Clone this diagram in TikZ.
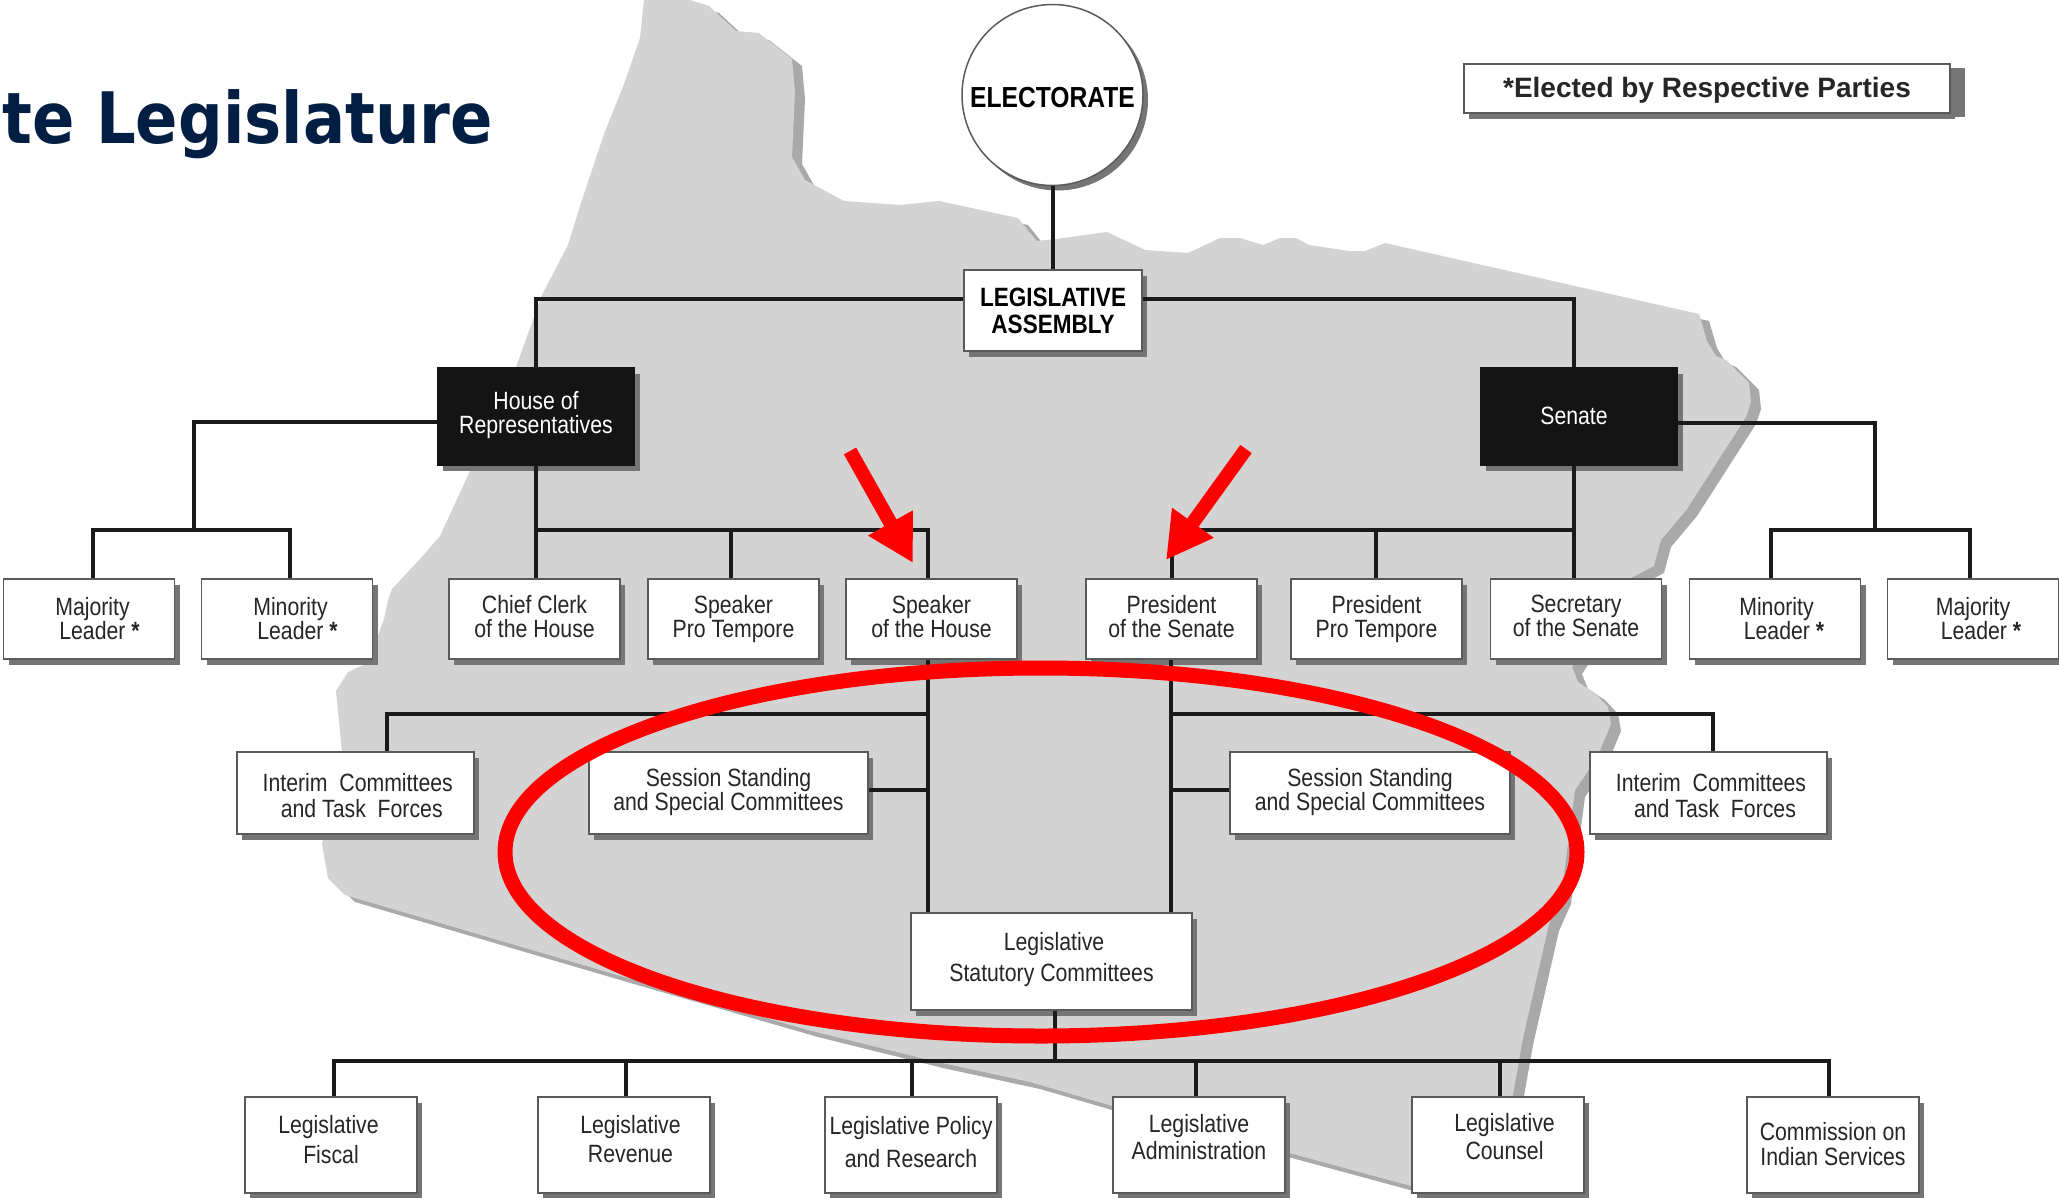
\documentclass[tikz,border=0pt]{standalone}
\usepackage{fontspec}
\setmainfont{Liberation Sans}[FakeStretch=0.85]
\newfontfamily\plainfont{Liberation Sans}
\newfontfamily\titlefont{DejaVu Sans}[FakeStretch=0.88]
\usetikzlibrary{shadows,arrows.meta,shapes.geometric}
\definecolor{mapgray}{HTML}{D3D3D3}
\definecolor{mapshade}{HTML}{A9A9A9}
\definecolor{boxshade}{HTML}{757575}
\definecolor{boxedge}{HTML}{5A5A5A}
\definecolor{linkblack}{HTML}{1A1A1A}
\definecolor{titlenavy}{HTML}{031E43}
\newcommand{\statemap}{(644,0) -- (640,38) -- (624,84) -- (604,134) -- (581,203) -- (568,245) -- (542,295) -- (516,367) -- (470,471) -- (440,536) -- (420,559) -- (392,589) -- (388,600) -- (384,619) -- (368,663) -- (348,672) -- (336,691) -- (342,752) -- (322,844) -- (328,878) -- (345,895) -- (617,975) -- (808,1030) -- (933,1061) -- (1030,1082) -- (1109,1105) -- (1293,1154) -- (1411,1186) -- (1513,1095) -- (1523,1038) -- (1549,924) -- (1561,897) -- (1575,790) -- (1588,771) -- (1601,748) -- (1611,724) -- (1608,707) -- (1595,693) -- (1578,682) -- (1572,667) -- (1631,578) -- (1654,566) -- (1661,540) -- (1687,509) -- (1746,417) -- (1751,402) -- (1749,383) -- (1726,360) -- (1716,356) -- (1707,341) -- (1699,314) -- (1385,243) -- (1365,251) -- (1349,251) -- (1309,245) -- (1296,238) -- (1280,238) -- (1263,245) -- (1240,238) -- (1220,238) -- (1188,253) -- (1145,250) -- (1107,232) -- (1056,239) -- (1037,241) -- (1030,233) -- (1018,218) -- (939,201) -- (900,205) -- (844,201) -- (805,180) -- (792,157) -- (795,92) -- (792,59) -- (759,33) -- (736,31) -- (709,6) -- (690,0) -- cycle}
\tikzset{
  box/.style={draw=boxedge, fill=white, line width=1.5pt, align=center, text=black!85,
    inner sep=0pt, font=\fontsize{25}{24}\selectfont,
    drop shadow={shadow xshift=5pt, shadow yshift=-6pt, fill=boxshade, opacity=1}},
  topbox/.style={box, minimum width=171pt, minimum height=80pt},
  midbox/.style={box, minimum height=82pt},
  lowbox/.style={box, minimum width=172pt, minimum height=96pt},
  darkbox/.style={box, fill=black!92, draw=black!92, text=white, minimum width=197pt, minimum height=97pt},
  link/.style={draw=linkblack, line width=4pt},
  redarrow/.style={draw=red, line width=14pt, -{Triangle[length=46pt,width=48pt]}}
}
\begin{document}
\begin{tikzpicture}[x=1pt, y=-1pt]
    \useasboundingbox (0,0) rectangle (2059,1197);

    % State outline behind the chart
    \fill[mapshade, xshift=10pt, yshift=-7pt] \statemap;
    \fill[mapgray] \statemap;

    % Title and note
    \node[anchor=base west, inner sep=0pt, text=titlenavy, font=\titlefont\fontsize{71}{71}\selectfont\bfseries] (title) at (2,143.5) {te Legislature};
    \node[box, minimum width=486pt, minimum height=49pt, font=\plainfont\fontsize{28}{28}\selectfont\bfseries,
      drop shadow={shadow xshift=15pt, shadow yshift=-4pt, fill=boxshade, opacity=1}] (note) at (1707,88.5) {*Elected by Respective Parties\\[-25pt]};

    % Top of the chart
    \node[circle, draw=boxedge, fill=white, line width=1.5pt, minimum size=181pt, inner sep=0pt, text=black,
      font=\fontsize{29}{29}\selectfont\bfseries,
      drop shadow={shadow xshift=5pt, shadow yshift=-5pt, fill=boxshade, opacity=1}] (elect) at (1052.5,95) {\rule{0pt}{26pt}ELECTORATE};
    \node[box, minimum width=178pt, minimum height=81pt, text=black, font=\fontsize{26.5}{27}\selectfont\bfseries] (asm) at (1053,310.5) {LEGISLATIVE\\ASSEMBLY};
    \node[darkbox] (house) at (536,416.5) {House of\\Representatives\\[-15.6pt]};
    \node[darkbox] (senate) at (1579,416.5) {Senate\hspace*{10pt}\\[-23pt]};

    % Officers of the house
    \node[topbox] (hmaj) at (89,619) {\hspace*{7pt}Majority\\\hspace*{21pt}Leader \textbf{*}\\[-23pt]};
    \node[topbox] (hmin) at (287,619) {\hspace*{7pt}Minority\\\hspace*{21pt}Leader \textbf{*}\\[-23pt]};
    \node[topbox] (hclerk) at (534.5,619) {Chief Clerk\\of the House\\[-18pt]};
    \node[topbox] (hpro) at (733.5,619) {Speaker\\Pro Tempore\\[-18pt]};
    \node[topbox] (hspk) at (931.5,619) {Speaker\\of the House\\[-18pt]};

    % Officers of the senate
    \node[topbox] (spre) at (1171.5,619) {President\\of the Senate\\[-18pt]};
    \node[topbox] (spro) at (1376.5,619) {President\\Pro Tempore\\[-18pt]};
    \node[topbox] (ssec) at (1576,619) {Secretary\\of the Senate\\[-18pt]};
    \node[topbox] (smin) at (1775,619) {\hspace*{3pt}Minority\\\hspace*{18pt}Leader \textbf{*}\\[-23pt]};
    \node[topbox] (smaj) at (1973,619) {Majority\\\hspace*{16pt}Leader \textbf{*}\\[-23pt]};

    % Committees
    \node[midbox, minimum width=237pt] (lint) at (355.25,793) {\rule{0pt}{24pt}\hspace*{5pt}Interim\ \ Committees\\[2pt]\hspace*{13pt}and Task\ \ Forces};
    \node[midbox, minimum width=279pt] (lses) at (728.5,793) {Session Standing\\and Special Committees\\[-17.6pt]};
    \node[midbox, minimum width=280pt] (rses) at (1370,793) {Session Standing\\and Special Committees\\[-17.6pt]};
    \node[midbox, minimum width=237pt] (rint) at (1708.5,793) {\rule{0pt}{24pt}\hspace*{5pt}Interim\ \ Committees\\[2pt]\hspace*{13pt}and Task\ \ Forces};
    \node[box, minimum width=281pt, minimum height=97pt] (stat) at (1051.5,961.5) {\hspace*{5pt}Legislative\\[7pt]Statutory Committees\hspace*{10pt}\\[-15pt]};

    % Bottom row
    \node[lowbox] (bfis) at (331,1145) {Legislative\hspace*{5pt}\\[6pt]Fiscal\hspace*{5pt}\\[-12pt]};
    \node[lowbox] (brev) at (624,1145) {\hspace*{13pt}Legislative\\[5pt]\hspace*{13pt}Revenue\\[-11pt]};
    \node[lowbox] (bpol) at (911,1145) {Legislative Policy\\[9pt]and Research\\[-18pt]};
    \node[lowbox] (badm) at (1199,1145) {Legislative\\[3pt]Administration\\[-7pt]};
    \node[lowbox] (bcou) at (1498,1145) {\hspace*{13pt}Legislative\\[4pt]\hspace*{13pt}Counsel\\[-7pt]};
    \node[lowbox] (bcom) at (1833,1145) {Commission on\\[1pt]Indian Services\\[-21pt]};

    % Bus points
    \coordinate (hlbus) at (194,530);
    \coordinate (hbus) at (536,530);
    \coordinate (sbus) at (1574,530);
    \coordinate (srbus) at (1875,530);
    \coordinate (lbus) at (928,714);
    \coordinate (rbus) at (1170.5,714);
    \coordinate (bbus) at (1055,1061);

    % Links from the top
    \draw[link] (elect.south) -- (elect.south |- asm.north);
    \draw[link] ([yshift=11.5pt]asm.west) -| (house.north);
    \draw[link] ([yshift=11.5pt]asm.east) -| ([xshift=-5pt]senate.north);

    % Links of the house
    \draw[link] ([yshift=-5.5pt]house.west) -| (hlbus);
    \draw[link] ([xshift=3.5pt]hmaj.north) |- (hlbus) -| ([xshift=3pt]hmin.north);
    \draw[link] (house.south) -- (house.south |- hclerk.north);
    \draw[link] (hbus) -| ([xshift=-3.5pt]hspk.north);
    \draw[link] ([xshift=-2.5pt]hpro.north) |- (hbus);

    % Links of the senate
    \draw[link] ([xshift=-5pt]senate.south) -- ([xshift=-2pt]ssec.north);
    \draw[link] (sbus) -| (spre.north);
    \draw[link] ([xshift=-1pt]spro.north) |- (sbus);
    \draw[link] ([yshift=-6.5pt]senate.east) -| (srbus);
    \draw[link] ([xshift=-4pt]smin.north) |- (srbus) -| ([xshift=-3pt]smaj.north);

    % Links of the committees
    \draw[link] ([xshift=-3.5pt]hspk.south) -- ([xshift=-3.5pt]hspk.south |- stat.north);
    \draw[link] ([xshift=-1pt]spre.south) -- ([xshift=-1pt]spre.south |- stat.north);
    \draw[link] ([xshift=32pt]lint.north) |- (lbus);
    \draw[link] ([xshift=4.5pt]rint.north) |- (rbus);
    \draw[link] ([yshift=3pt]lses.east) -- ([yshift=3pt]lses.east -| lbus);
    \draw[link] ([yshift=3pt]rses.west) -- ([yshift=3pt]rses.west -| rbus);

    % Links of the bottom row
    \draw[link] ([xshift=3.5pt]stat.south) -- (bbus);
    \draw[link] ([xshift=3pt]bfis.north) |- (bbus) -| ([xshift=-4pt]bcom.north);
    \draw[link] ([xshift=2pt]brev.north) |- (bbus);
    \draw[link] ([xshift=1pt]bpol.north) |- (bbus);
    \draw[link] ([xshift=-3pt]badm.north) |- (bbus);
    \draw[link] ([xshift=2pt]bcou.north) |- (bbus);

    % Red marks on top
    \coordinate (ltail) at (850,451);
    \coordinate (ltip) at (913,563);
    \coordinate (rtail) at (1246,449);
    \coordinate (rtip) at (1166,560);
    \draw[redarrow] (ltail) -- (ltip);
    \draw[redarrow] (rtail) -- (rtip);
    \node[ellipse, draw=red, line width=15pt, minimum width=1072pt, minimum height=368pt, inner sep=0pt] (ring) at (1041,852) {};
\end{tikzpicture}
\end{document}
